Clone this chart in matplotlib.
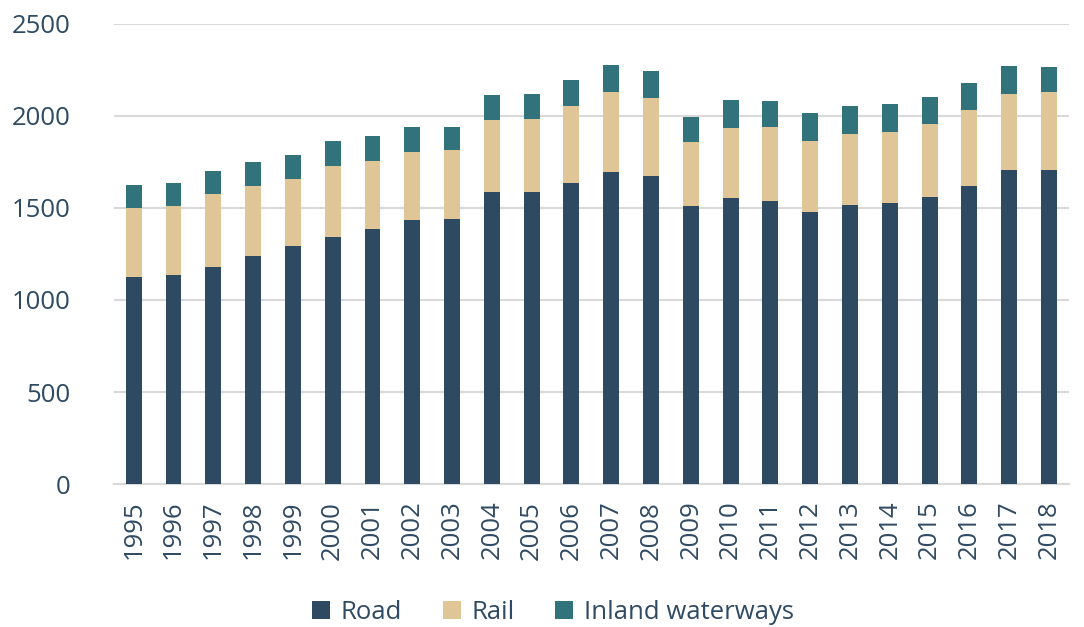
import matplotlib.pyplot as plt
import numpy as np

years = [str(y) for y in range(1995, 2019)]
road = [1123, 1134, 1180, 1238, 1291, 1340, 1385, 1436, 1438, 1586, 1584, 1637,
        1695, 1675, 1511, 1555, 1538, 1478, 1516, 1524, 1559, 1619, 1704, 1706]
rail = [377, 379, 395, 379, 368, 390, 372, 368, 377, 391, 397, 415,
        432, 422, 348, 379, 403, 388, 385, 391, 396, 411, 415, 426]
waterways = [124, 120, 127, 131, 129, 134, 133, 133, 124, 137, 138, 142,
             147, 146, 133, 154, 142, 149, 153, 150, 148, 148, 150, 133]

text_color = '#2F4A63'
colors = ['#2E4A63', '#E0C597', '#32727B']

plt.rcParams['font.family'] = ['Open Sans', 'DejaVu Sans']

fig = plt.figure(figsize=(10.84, 6.27), dpi=100)
ax = fig.add_axes([0.105, 0.228, 0.881, 0.734])

x = np.arange(len(years))
road_arr = np.array(road)
rail_arr = np.array(rail)
width = 0.4

ax.bar(x, road_arr, width, color=colors[0], label='Road', zorder=3)
ax.bar(x, rail_arr, width, bottom=road_arr, color=colors[1], label='Rail', zorder=3)
ax.bar(x, waterways, width, bottom=road_arr + rail_arr, color=colors[2],
       label='Inland waterways', zorder=3)

ax.set_xlim(-0.5, len(years) - 0.5)
ax.set_ylim(0, 2500)
ax.set_yticks(range(0, 2501, 500))
ax.set_xticks(x)
ax.set_xticklabels(years, rotation=90)
ax.grid(True, axis='y', color='#D9D9D9', linewidth=1.5, zorder=0)

for side in ['top', 'right', 'left']:
    ax.spines[side].set_visible(False)
ax.spines['bottom'].set_color('#D9D9D9')
ax.spines['bottom'].set_linewidth(1.5)

ax.tick_params(axis='both', length=0, labelsize=18.5, colors=text_color)
ax.tick_params(axis='y', pad=31)
ax.tick_params(axis='x', pad=12)

leg = fig.legend(loc='center', bbox_to_anchor=(0.51, 0.023), ncol=3, frameon=False,
                 fontsize=18.5, handlelength=0.7, handleheight=0.7,
                 handletextpad=0.4, columnspacing=1.6)
for t in leg.get_texts():
    t.set_color(text_color)

fig.savefig('out.png', dpi=100)
